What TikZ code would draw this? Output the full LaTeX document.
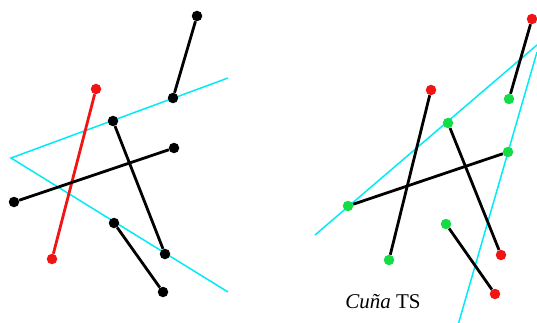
\documentclass[tikz,border=0pt]{standalone}
\usepackage{fontspec}
\setmainfont{Liberation Serif}
\definecolor{wedgecyan}{RGB}{0,235,245}
\definecolor{dotgreen}{RGB}{20,220,70}
\definecolor{dotred}{RGB}{240,20,20}
\tikzset{
  dot/.style={circle,fill,inner sep=0pt,minimum size=10.5pt},
  seg/.style={line width=2.8pt},
  wedge/.style={wedgecyan,line width=1.5pt}
}
\begin{document}
\begin{tikzpicture}[x=1pt,y=-1pt]
\useasboundingbox (0,0) rectangle (537,323);
% left: segments before the cut
\coordinate (lw1) at (228,78);
\coordinate (lw2) at (11,158);
\coordinate (lw3) at (228,292);
\draw[wedge] (lw1) -- (lw2) -- (lw3);
\node[dot] (la1) at (197,16) {};
\node[dot] (la2) at (173,98) {};
\node[dot,dotred] (lr1) at (96,89) {};
\node[dot,dotred] (lr2) at (52,259) {};
\node[dot] (lb1) at (113,121) {};
\node[dot] (lb2) at (165,254) {};
\node[dot] (lc1) at (174,148) {};
\node[dot] (lc2) at (14,202) {};
\node[dot] (ld1) at (114,223) {};
\node[dot] (ld2) at (163,292) {};
\draw[seg] (la1) -- (la2);
\draw[seg,dotred] (lr1) -- (lr2);
\draw[seg] (lb1) -- (lb2);
\draw[seg] (lc1) -- (lc2);
\draw[seg] (ld1) -- (ld2);
% right: wedge TS
\coordinate (rw1) at (315,235);
\coordinate (rw2) at (537,45);
\coordinate (rw3) at (537,52);
\coordinate (rw4) at (458,325);
\draw[wedge] (rw1) -- (rw2);
\draw[wedge] (rw3) -- (rw4);
\node[dot,dotred] (ra1) at (532,19) {};
\node[dot,dotgreen] (ra2) at (509,99) {};
\node[dot,dotred] (rr1) at (431,90) {};
\node[dot,dotgreen] (rr2) at (389,260) {};
\node[dot,dotgreen] (rb1) at (448,123) {};
\node[dot,dotred] (rb2) at (501,255) {};
\node[dot,dotgreen] (rc1) at (508,152) {};
\node[dot,dotgreen] (rc2) at (348,206) {};
\node[dot,dotgreen] (rd1) at (446,224) {};
\node[dot,dotred] (rd2) at (495,294) {};
\draw[seg] (ra1) -- (ra2);
\draw[seg] (rr1) -- (rr2);
\draw[seg] (rb1) -- (rb2);
\draw[seg] (rc1) -- (rc2);
\draw[seg] (rd1) -- (rd2);
\node[font=\fontsize{21}{25}\selectfont] (label) at (383,302) {\textit{Cuña} TS};
\end{tikzpicture}
\end{document}
